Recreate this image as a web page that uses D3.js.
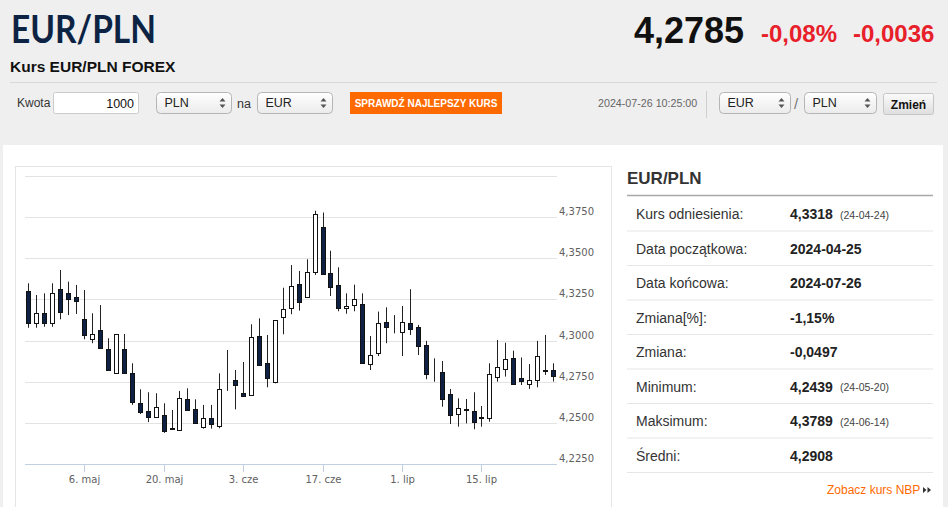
<!DOCTYPE html>
<html>
<head>
<meta charset="utf-8">
<script src="https://cdn.jsdelivr.net/npm/d3@7"></script>
<style>
  html, body { margin: 0; padding: 0; background: #efefef; }
  svg { display: block; }
</style>
</head>
<body>
<div id="page"></div>
<script>
// trading days shown on the chart
var dates = [
  "2024-04-25","2024-04-26","2024-04-29","2024-04-30",
  "2024-05-01","2024-05-02","2024-05-03","2024-05-06","2024-05-07","2024-05-08","2024-05-09","2024-05-10",
  "2024-05-13","2024-05-14","2024-05-15","2024-05-16","2024-05-17","2024-05-20","2024-05-21","2024-05-22",
  "2024-05-23","2024-05-24","2024-05-27","2024-05-28","2024-05-29","2024-05-30","2024-05-31",
  "2024-06-03","2024-06-04","2024-06-05","2024-06-06","2024-06-07","2024-06-10","2024-06-11","2024-06-12",
  "2024-06-13","2024-06-14","2024-06-17","2024-06-18","2024-06-19","2024-06-20","2024-06-21","2024-06-24",
  "2024-06-25","2024-06-26","2024-06-27","2024-06-28",
  "2024-07-01","2024-07-02","2024-07-03","2024-07-04","2024-07-05","2024-07-08","2024-07-09","2024-07-10",
  "2024-07-11","2024-07-12","2024-07-15","2024-07-16","2024-07-17","2024-07-18","2024-07-19","2024-07-22",
  "2024-07-23","2024-07-24","2024-07-25","2024-07-26"
];

var openValues = [
  4.3303,4.3109,4.3166,4.3109,4.3315,4.3287,4.3263,4.3129,4.3011,4.3063,
  4.2947,4.2801,4.2951,4.2801,4.2619,4.2572,4.2536,4.2548,4.2463,4.2457,
  4.2643,4.2584,4.2477,4.2531,4.2483,4.2748,4.2761,4.2683,4.2669,4.3028,
  4.2862,4.2751,4.3141,4.3196,4.3344,4.3267,4.3415,4.3692,4.3409,4.3338,
  4.3196,4.3214,4.3221,4.2860,4.2923,4.3115,4.3092,4.3050,4.3105,4.3081,
  4.2973,4.2817,4.2807,4.2674,4.2554,4.2582,4.2572,4.2531,4.2531,4.2777,
  4.2827,4.2896,4.2771,4.2736,4.2761,4.2818,4.2821
];
var highValues = [
  4.3348,4.3277,4.3287,4.3348,4.3429,4.3358,4.3338,4.3307,4.3166,4.3216,
  4.3014,4.3040,4.3040,4.2862,4.2704,4.2686,4.2680,4.2619,4.2578,4.2694,
  4.2710,4.2643,4.2609,4.2609,4.2801,4.2943,4.2821,4.2870,4.3099,4.3135,
  4.3034,4.3125,4.3321,4.3459,4.3423,4.3494,4.3789,4.3778,4.3546,4.3445,
  4.3287,4.3340,4.3287,4.3028,4.3176,4.3202,4.3155,4.3210,4.3312,4.3095,
  4.2998,4.2892,4.2876,4.2706,4.2649,4.2645,4.2686,4.2602,4.2862,4.3004,
  4.2987,4.2939,4.2897,4.2857,4.2998,4.3034,4.2862
];
var lowValues = [
  4.3078,4.3078,4.3084,4.3084,4.3129,4.3155,4.3162,4.3008,4.2984,4.2951,
  4.2818,4.2797,4.2798,4.2609,4.2554,4.2505,4.2531,4.2439,4.2457,4.2452,
  4.2574,4.2495,4.2465,4.2465,4.2467,4.2694,4.2582,4.2659,4.2665,4.2846,
  4.2716,4.2740,4.3038,4.3160,4.3182,4.3263,4.3399,4.3402,4.3271,4.3178,
  4.3163,4.3178,4.2863,4.2821,4.2906,4.2984,4.3044,4.2906,4.3034,4.2912,
  4.2765,4.2750,4.2598,4.2493,4.2477,4.2497,4.2461,4.2477,4.2507,4.2750,
  4.2781,4.2734,4.2730,4.2706,4.2716,4.2791,4.2751
];
var closeValues = [
  4.3109,4.3166,4.3109,4.3287,4.3174,4.3251,4.3242,4.3032,4.3040,4.2955,
  4.2821,4.3040,4.2801,4.2625,4.2564,4.2536,4.2596,4.2449,4.2466,4.2649,
  4.2578,4.2499,4.2530,4.2493,4.2704,4.2750,4.2730,4.2663,4.3020,4.2850,
  4.2771,4.3125,4.3192,4.3334,4.3236,4.3415,4.3769,4.3405,4.3328,4.3196,
  4.3210,4.3252,4.2866,4.2912,4.3105,4.3081,4.3095,4.3115,4.3069,4.2967,
  4.2797,4.2815,4.2643,4.2548,4.2592,4.2580,4.2507,4.2533,4.2795,4.2838,
  4.2886,4.2736,4.2754,4.2761,4.2908,4.2821,4.2785
];

var tickDates = ["2024-05-06","2024-05-20","2024-06-03","2024-06-17","2024-07-01","2024-07-15"];
var tickLabels = ["6. maj","20. maj","3. cze","17. cze","1. lip","15. lip"];
var yTicks = [4.225,4.25,4.275,4.30,4.325,4.35,4.375,4.40];
var yLabelled = [4.225,4.25,4.275,4.30,4.325,4.35,4.375];

var statLabels = ["Kurs odniesienia:","Data początkowa:","Data końcowa:","Zmiana[%]:","Zmiana:","Minimum:","Maksimum:","Średni:"];
var statValues = ["4,3318","2024-04-25","2024-07-26","-1,15%","-0,0497","4,2439","4,3789","4,2908"];
var statDates = ["(24-04-24)","","","","","(24-05-20)","(24-06-14)",""];

var lastRate = 4.2785;
var changePct = "-0,08%";
var changeAbs = "-0,0036";
var stamp = "2024-07-26 10:25:00";

var W = 948, H = 507;
var pl = d3.formatLocale({decimal: ",", thousands: " ", grouping: [3], currency: ["", " zł"]});
var fmt4 = pl.format(".4f");

var svg = d3.select("#page").append("svg")
  .attr("width", W)
  .attr("height", H)
  .style("font-family", "'Liberation Sans', Arial, sans-serif");

var defs = svg.append("defs");
var grad = defs.append("linearGradient").attr("id", "selGrad").attr("x1", 0).attr("y1", 0).attr("x2", 0).attr("y2", 1);
grad.append("stop").attr("offset", "0%").attr("stop-color", "#ffffff");
grad.append("stop").attr("offset", "100%").attr("stop-color", "#ebebeb");
var grad2 = defs.append("linearGradient").attr("id", "btnGrad").attr("x1", 0).attr("y1", 0).attr("x2", 0).attr("y2", 1);
grad2.append("stop").attr("offset", "0%").attr("stop-color", "#fbfbfb");
grad2.append("stop").attr("offset", "100%").attr("stop-color", "#dedede");

// ---------- header ----------
svg.append("rect").attr("width", W).attr("height", H).attr("fill", "#efefef");

svg.append("text")
  .attr("x", 11).attr("y", 43)
  .attr("textLength", 145)
  .attr("lengthAdjust", "spacingAndGlyphs")
  .style("font-family", "Lato, 'Open Sans', sans-serif")
  .style("font-weight", 700)
  .style("font-size", "39px")
  .attr("fill", "#0c2344")
  .text("EUR/PLN");

svg.append("text")
  .attr("x", 10).attr("y", 71.5)
  .style("font-weight", 700).style("font-size", "15.5px")
  .attr("fill", "#111")
  .text("Kurs EUR/PLN FOREX");

svg.append("text")
  .attr("x", 634).attr("y", 43)
  .style("font-weight", 700).style("font-size", "36px")
  .attr("fill", "#111")
  .text(fmt4(lastRate));

svg.append("text")
  .attr("x", 761).attr("y", 41.5)
  .style("font-weight", 700).style("font-size", "24px")
  .attr("fill", "#e8202a")
  .text(changePct);

svg.append("text")
  .attr("x", 853).attr("y", 41.5)
  .style("font-weight", 700).style("font-size", "24px")
  .attr("fill", "#e8202a")
  .text(changeAbs);

svg.append("line")
  .attr("x1", 10).attr("x2", 937).attr("y1", 82.5).attr("y2", 82.5)
  .attr("stroke", "#d9d9d9");

// controls row
svg.append("text").attr("x", 17).attr("y", 107)
  .style("font-size", "12px").attr("fill", "#333").text("Kwota");

svg.append("rect")
  .attr("x", 53.5).attr("y", 92.5).attr("width", 85).attr("height", 21)
  .attr("rx", 2).attr("fill", "#fff").attr("stroke", "#cccccc");
svg.append("text").attr("x", 134).attr("y", 107.5)
  .attr("text-anchor", "end").style("font-size", "12.5px").attr("fill", "#111").text("1000");

function selectBox(x, w, label) {
  var g = svg.append("g").attr("transform", "translate(" + x + ",92.5)");
  g.append("rect").attr("width", w).attr("height", 21).attr("rx", 4)
    .attr("fill", "url(#selGrad)").attr("stroke", "#b5b5b5");
  g.append("text").attr("x", 8).attr("y", 14.5)
    .style("font-size", "12.5px").attr("fill", "#222").text(label);
  g.append("path")
    .attr("d", "M" + (w - 12) + ",9 l3,-3.5 l3,3.5 z M" + (w - 12) + ",12 l3,3.5 l3,-3.5 z")
    .attr("fill", "#555");
}

selectBox(156.5, 75, "PLN");
svg.append("text").attr("x", 237).attr("y", 107.5)
  .style("font-size", "12.5px").attr("fill", "#333").text("na");
selectBox(257.5, 75, "EUR");

svg.append("rect")
  .attr("x", 350).attr("y", 92).attr("width", 152).attr("height", 22)
  .attr("fill", "#ff6a00");
svg.append("text").attr("x", 426).attr("y", 106.5)
  .attr("text-anchor", "middle")
  .style("font-weight", 700).style("font-size", "10px")
  .attr("fill", "#fff").text("SPRAWDŹ NAJLEPSZY KURS");

svg.append("text").attr("x", 598).attr("y", 107)
  .style("font-size", "10.7px").attr("fill", "#666").text(stamp);

svg.append("line")
  .attr("x1", 706.5).attr("x2", 706.5).attr("y1", 91).attr("y2", 118)
  .attr("stroke", "#cfcfcf");

selectBox(719.5, 71, "EUR");
svg.append("text").attr("x", 794).attr("y", 109)
  .style("font-size", "15px").attr("fill", "#777").text("/");
selectBox(804.5, 72, "PLN");

svg.append("rect")
  .attr("x", 883.5).attr("y", 93.5).attr("width", 50).attr("height", 21)
  .attr("rx", 2).attr("fill", "url(#btnGrad)").attr("stroke", "#c6c6c6");
svg.append("text").attr("x", 908.5).attr("y", 108.5)
  .attr("text-anchor", "middle")
  .style("font-weight", 700).style("font-size", "12px")
  .attr("fill", "#111").text("Zmień");

// ---------- white panel ----------
svg.append("rect")
  .attr("x", 3).attr("y", 145).attr("width", 940).attr("height", H - 145)
  .attr("fill", "#fff");

svg.append("rect")
  .attr("x", 15.5).attr("y", 166.5).attr("width", 596).attr("height", 350)
  .attr("fill", "#fff").attr("stroke", "#e4e4e4");

// ---------- candlestick chart ----------
var data = dates.map(function(d, i) {
  return {date: d, open: openValues[i], high: highValues[i], low: lowValues[i], close: closeValues[i]};
});

var x = d3.scalePoint()
  .domain(dates)
  .range([24.5, 557])
  .padding(0.5);

var y = d3.scaleLinear()
  .domain([4.225, 4.40])
  .range([464, 176]);

var plot = svg.append("g");

plot.selectAll("line.grid")
  .data(yTicks)
  .enter()
  .append("line")
  .attr("class", "grid")
  .attr("x1", 25).attr("x2", 557)
  .attr("y1", function(d) { return Math.round(y(d)) + 0.5; })
  .attr("y2", function(d) { return Math.round(y(d)) + 0.5; })
  .attr("stroke", "#e3e3e3");

plot.selectAll("text.ylab")
  .data(yLabelled)
  .enter()
  .append("text")
  .attr("class", "ylab")
  .attr("x", 559)
  .attr("y", function(d) { return Math.round(y(d)) - 2; })
  .style("font-family", "'DejaVu Sans', Verdana, sans-serif")
  .style("font-size", "10px")
  .attr("fill", "#606060")
  .text(function(d) { return fmt4(d); });

// x axis
plot.append("line")
  .attr("x1", 25).attr("x2", 557).attr("y1", 464.5).attr("y2", 464.5)
  .attr("stroke", "#c0d0e0");

plot.selectAll("line.xtick")
  .data(tickDates)
  .enter()
  .append("line")
  .attr("class", "xtick")
  .attr("x1", function(d) { return Math.round(x(d)) + 0.5; })
  .attr("x2", function(d) { return Math.round(x(d)) + 0.5; })
  .attr("y1", 464).attr("y2", 472)
  .attr("stroke", "#c0d0e0");

plot.selectAll("text.xlab")
  .data(tickDates)
  .enter()
  .append("text")
  .attr("class", "xlab")
  .attr("x", function(d) { return Math.round(x(d)) + 0.5; })
  .attr("y", 483)
  .attr("text-anchor", "middle")
  .style("font-family", "'DejaVu Sans', Verdana, sans-serif")
  .style("font-size", "10px")
  .attr("fill", "#606060")
  .text(function(d, i) { return tickLabels[i]; });

var candles = plot.selectAll("g.candle")
  .data(data)
  .enter()
  .append("g")
  .attr("class", "candle")
  .attr("transform", function(d) { return "translate(" + Math.round(x(d.date)) + ",0)"; });

candles.append("line")
  .attr("x1", 0.5).attr("x2", 0.5)
  .attr("y1", function(d) { return y(d.high); })
  .attr("y2", function(d) { return y(d.low); })
  .attr("stroke", "#222");

candles.append("rect")
  .attr("x", -1.5)
  .attr("width", 4)
  .attr("y", function(d) { return Math.round(y(Math.max(d.open, d.close))) + 0.5; })
  .attr("height", function(d) {
    return Math.max(0, Math.round(y(Math.min(d.open, d.close))) - Math.round(y(Math.max(d.open, d.close))));
  })
  .attr("fill", function(d) { return d.close >= d.open ? "#ffffff" : "#0e2145"; })
  .attr("stroke", "#111");

// ---------- statistics panel ----------
var side = svg.append("g");

side.append("text")
  .attr("x", 627).attr("y", 184)
  .style("font-weight", 700).style("font-size", "17px")
  .attr("fill", "#333").text("EUR/PLN");

side.append("line")
  .attr("x1", 627).attr("x2", 933).attr("y1", 195.5).attr("y2", 195.5)
  .attr("stroke", "#a8a8a8").attr("stroke-width", 1.5);

var rowY = d3.scaleBand()
  .domain(statLabels)
  .range([196.5, 472.5]);

var rows = side.selectAll("g.row")
  .data(statLabels)
  .enter()
  .append("g")
  .attr("class", "row")
  .attr("transform", function(d) { return "translate(0," + rowY(d) + ")"; });

rows.append("line")
  .attr("x1", 627).attr("x2", 933)
  .attr("y1", rowY.bandwidth()).attr("y2", rowY.bandwidth())
  .attr("stroke", "#e6e6e6");

rows.append("text")
  .attr("x", 636).attr("y", rowY.bandwidth() - 12)
  .style("font-size", "14px").attr("fill", "#333")
  .text(function(d) { return d; });

rows.append("text")
  .attr("x", 790).attr("y", rowY.bandwidth() - 12)
  .style("font-size", "14px").style("font-weight", 700).attr("fill", "#222")
  .text(function(d, i) { return statValues[i]; });

rows.append("text")
  .attr("x", 840).attr("y", rowY.bandwidth() - 12.5)
  .style("font-size", "10.5px").attr("fill", "#444")
  .text(function(d, i) { return statDates[i]; });

side.append("text")
  .attr("x", 827).attr("y", 494)
  .style("font-size", "12px").attr("fill", "#ff6a00")
  .text("Zobacz kurs NBP");
side.append("path")
  .attr("d", "M923,487 l3.5,3 l-3.5,3 z M927.5,487 l3.5,3 l-3.5,3 z")
  .attr("fill", "#333");
</script>
</body>
</html>
